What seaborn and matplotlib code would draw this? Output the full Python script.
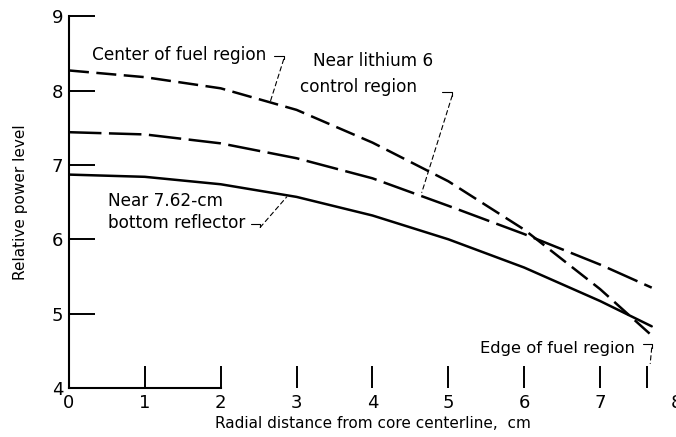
import numpy as np
import pandas as pd
import seaborn as sns
import matplotlib.pyplot as plt

# values
radius_center = [0, 1, 2, 3, 4, 5, 6, 7, 7.72]
power_center = [8.27, 8.18, 8.03, 7.74, 7.30, 6.78, 6.13, 5.33, 4.67]

radius_lithium = [0, 1, 2, 3, 4, 5, 6, 7, 7.68]
power_lithium = [7.44, 7.41, 7.29, 7.09, 6.82, 6.45, 6.07, 5.66, 5.35]

radius_reflector = [0, 1, 2, 3, 4, 5, 6, 7, 7.68]
power_reflector = [6.87, 6.84, 6.74, 6.57, 6.32, 6.00, 5.62, 5.17, 4.83]

x_ticks = [0, 1, 2, 3, 4, 5, 6, 7, 8]
y_ticks = [4, 5, 6, 7, 8, 9]
fuel_edge = 7.62

sns.set_style('ticks')
plt.rcParams['font.family'] = ['DejaVu Sans']
plt.rcParams['text.color'] = 'black'
plt.rcParams['axes.labelcolor'] = 'black'
plt.rcParams['xtick.color'] = 'black'
plt.rcParams['ytick.color'] = 'black'

fig = plt.figure(figsize=(6.76, 4.37), dpi=100)
ax = fig.add_axes([0.102, 0.112, 0.898, 0.851])

sns.lineplot(x=radius_center, y=power_center, ax=ax, color='black',
             linewidth=1.8)
ax.lines[-1].set_dashes((8, 3))
sns.lineplot(x=radius_lithium, y=power_lithium, ax=ax, color='black',
             linewidth=1.8)
ax.lines[-1].set_dashes((13, 3))
sns.lineplot(x=radius_reflector, y=power_reflector, ax=ax, color='black',
             linewidth=1.8)

ax.set_xlim(0, 8)
ax.set_ylim(4, 9)
ax.set_xticks(x_ticks)
ax.set_yticks(y_ticks)
ax.set_xticks([fuel_edge], minor=True)
ax.tick_params(axis='x', which='both', direction='in', length=16, width=1.4,
               labelsize=13, pad=4)
ax.tick_params(axis='y', direction='in', length=19, width=1.4, labelsize=13, pad=4)
ax.xaxis.get_major_ticks()[-1].tick1line.set_visible(False)
ax.xaxis.get_major_ticks()[0].tick1line.set_visible(False)
ax.yaxis.get_major_ticks()[0].tick1line.set_visible(False)

sns.despine(ax=ax)
ax.spines['left'].set_linewidth(1.5)
ax.spines['bottom'].set_linewidth(1.5)
ax.spines['left'].set_color('black')
ax.spines['bottom'].set_color('black')
ax.spines['bottom'].set_bounds(0, 2)

ax.set_xlabel('Radial distance from core centerline,  cm', fontsize=11, labelpad=3)
ax.set_ylabel('Relative power level', fontsize=11, labelpad=17)

fs = 12.2
dash_kw = dict(arrowstyle='-', color='black', lw=0.8, linestyle=(0, (4, 3)),
               shrinkA=0, shrinkB=0)


def leader(text_xy, lines, hook, target, size=fs):
    for i, s in enumerate(lines):
        ax.text(text_xy[0], text_xy[1] - i * 0.30, s, fontsize=size,
                ha='left', va='center')
    ax.plot([hook[0], hook[1], hook[1]], [hook[2], hook[2], hook[2] - 0.05],
            color='black', lw=0.8)
    ax.annotate('', xy=target, xytext=(hook[1], hook[2] - 0.05), arrowprops=dash_kw)


leader((0.30, 8.48), ['Center of fuel region'], (2.70, 2.83, 8.47), (2.65, 7.84))
ax.text(3.22, 8.40, 'Near lithium 6', fontsize=fs, ha='left', va='center')
leader((3.05, 8.05), ['control region'], (4.91, 5.05, 7.98), (4.65, 6.63))
leader((0.51, 6.52), ['Near 7.62-cm', 'bottom reflector'], (2.40, 2.52, 6.21), (2.87, 6.57))
leader((5.42, 4.53), ['Edge of fuel region'], (7.56, 7.68, 4.59), (7.66, 4.33), size=11.8)

fig.savefig('out.png', dpi=100)
